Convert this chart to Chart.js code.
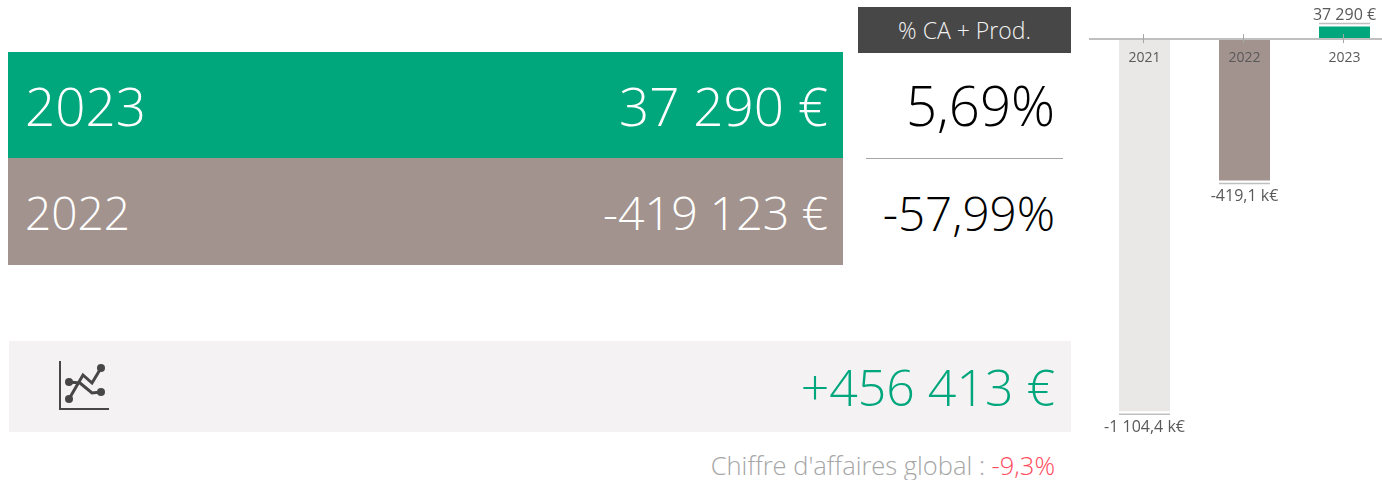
<!DOCTYPE html>
<html>
<head>
<meta charset="utf-8">
<script src="https://cdn.jsdelivr.net/npm/chart.js@4"></script>
<style>
  html, body { margin: 0; padding: 0; background: #fff; overflow: hidden; width: 1382px; height: 480px; }
  body { position: relative; font-family: "Open Sans", "Noto Sans", sans-serif; font-weight: 300; }
  .box { position: absolute; }
  .txt { position: absolute; white-space: nowrap; line-height: 1; }
  #barWrap { position: absolute; left: 1085px; top: 0; width: 315px; height: 480px; }
</style>
</head>
<body>
<div class="box" style="left:8px;top:52px;width:835px;height:106px;background:#00A67C"></div>
<div class="box" style="left:8px;top:158px;width:835px;height:107px;background:#A2938E"></div>
<div class="box" style="left:858px;top:7px;width:213px;height:46px;background:#474747"></div>
<div class="box" style="left:866px;top:158px;width:197px;height:1px;background:#A6A6A6"></div>
<div class="box" style="left:9px;top:341px;width:1062px;height:91px;background:#F4F2F3"></div>

<div class="txt" id="year0" style="left:25px;top:79px;font-size:53px;color:#fff"></div>
<div class="txt" id="amount0" style="right:554px;top:79px;font-size:53px;color:#fff"></div>
<div class="txt" id="year1" style="left:25px;top:189px;font-size:46px;color:#fff"></div>
<div class="txt" id="amount1" style="right:554px;top:189px;font-size:46.5px;color:#fff"></div>
<div class="txt" id="head" style="left:858px;width:213px;text-align:center;top:19px;font-size:23px;color:#f2f2f2"></div>
<div class="txt" id="pct0" style="right:327px;top:78px;font-size:54.5px;color:#000"></div>
<div class="txt" id="pct1" style="right:327px;top:189px;font-size:47.5px;color:#000"></div>
<div class="txt" id="delta" style="right:327px;top:362px;font-size:50px;color:#00A67C"></div>
<div class="txt" style="right:327px;top:453px;font-size:25.5px;color:#A6A6A6"><span id="globalLabel"></span><span id="globalValue" style="color:#FF4B5C"></span></div>

<svg class="box" style="left:55px;top:358px" width="58" height="56" viewBox="0 0 58 56" fill="none" stroke="#474747">
  <path d="M5 3V51H54" stroke-width="2"/>
  <path d="M14 41L28 17L37 25L46 10" stroke-width="3"/>
  <path d="M14 24L25 25L37 35L46 34" stroke-width="3"/>
  <g fill="#474747" stroke="none">
    <circle cx="14" cy="41" r="4"/><circle cx="46" cy="10" r="4"/>
    <circle cx="14" cy="24" r="4"/><circle cx="46" cy="34" r="4"/>
  </g>
</svg>

<div id="barWrap"><canvas id="resultChart"></canvas></div>

<script>
const kpiYears = ['2023', '2022'];
const kpiAmounts = ['37 290 €', '-419 123 €'];
const kpiPercents = ['5,69%', '-57,99%'];
const deltaText = '+456 413 €';
const globalLabel = "Chiffre d'affaires global : ";
const globalValue = '-9,3%';

const barYears = ['2021', '2022', '2023'];
const barValues = [-1104400, -419123, 37290];
const barLabels = ['-1 104,4 k€', '-419,1 k€', '37 290 €'];
const barColors = ['#E9E8E6', '#A2938E', '#00A67C'];

document.getElementById('year0').textContent = kpiYears[0];
document.getElementById('year1').textContent = kpiYears[1];
document.getElementById('amount0').textContent = kpiAmounts[0];
document.getElementById('amount1').textContent = kpiAmounts[1];
document.getElementById('pct0').textContent = kpiPercents[0];
document.getElementById('pct1').textContent = kpiPercents[1];
document.getElementById('head').textContent = '% CA + Prod.';
document.getElementById('delta').textContent = deltaText;
document.getElementById('globalLabel').textContent = globalLabel;
document.getElementById('globalValue').textContent = globalValue;

// axis line, small ticks and the labels with their little rule next to each bar
const barDecor = {
  id: 'barDecor',
  afterDatasetsDraw(chart) {
    const ctx = chart.ctx;
    const x = chart.scales.x;
    const zero = chart.scales.y.getPixelForValue(0);
    ctx.save();
    ctx.strokeStyle = '#BFBFBF';
    ctx.lineWidth = 2;
    ctx.beginPath();
    ctx.moveTo(4, zero);
    ctx.lineTo(chart.width, zero);
    ctx.stroke();
    ctx.lineWidth = 1;
    ctx.strokeStyle = '#A6A6A6';
    barYears.forEach((y, i) => {
      const px = Math.round(x.getPixelForTick(i)) - 1.5;
      ctx.beginPath();
      ctx.moveTo(px, zero - 5);
      ctx.lineTo(px, zero + 4);
      ctx.stroke();
    });
    ctx.font = '400 16px "Open Sans"';
    ctx.fillStyle = '#595959';
    ctx.textAlign = 'center';
    chart.getDatasetMeta(0).data.forEach((bar, i) => {
      const up = barValues[i] > 0;
      const ruleY = bar.y + (up ? -3 : 3);
      ctx.strokeStyle = '#BFBFBF';
      ctx.lineWidth = 1.5;
      ctx.beginPath();
      ctx.moveTo(bar.x - bar.width / 2, ruleY);
      ctx.lineTo(bar.x + bar.width / 2, ruleY);
      ctx.stroke();
      ctx.textBaseline = up ? 'bottom' : 'top';
      ctx.fillText(barLabels[i], bar.x, ruleY + (up ? 0 : 5.5));
    });
    ctx.restore();
  }
};

const resultChart = new Chart(document.getElementById('resultChart').getContext('2d'), {
  type: 'bar',
  data: {
    labels: barYears,
    datasets: [{
      data: barValues,
      backgroundColor: barColors,
      barPercentage: 0.51,
      categoryPercentage: 1,
    }],
  },
  options: {
    responsive: true,
    maintainAspectRatio: false,
    animation: false,
    layout: { padding: { left: 9.5, right: 5.5, top: 0, bottom: 0 } },
    scales: {
      x: {
        position: { y: 0 },
        grid: { display: false },
        border: { display: false },
        ticks: { z: 1, color: '#595959', font: { family: 'Open Sans', size: 14, weight: '400' }, padding: 3, maxRotation: 0 },
      },
      y: {
        display: false,
        min: -1308000,
        max: 116000,
      },
    },
    plugins: {
      legend: { display: false },
      tooltip: { enabled: false },
    },
  },
  plugins: [barDecor],
});
</script>
</body>
</html>
